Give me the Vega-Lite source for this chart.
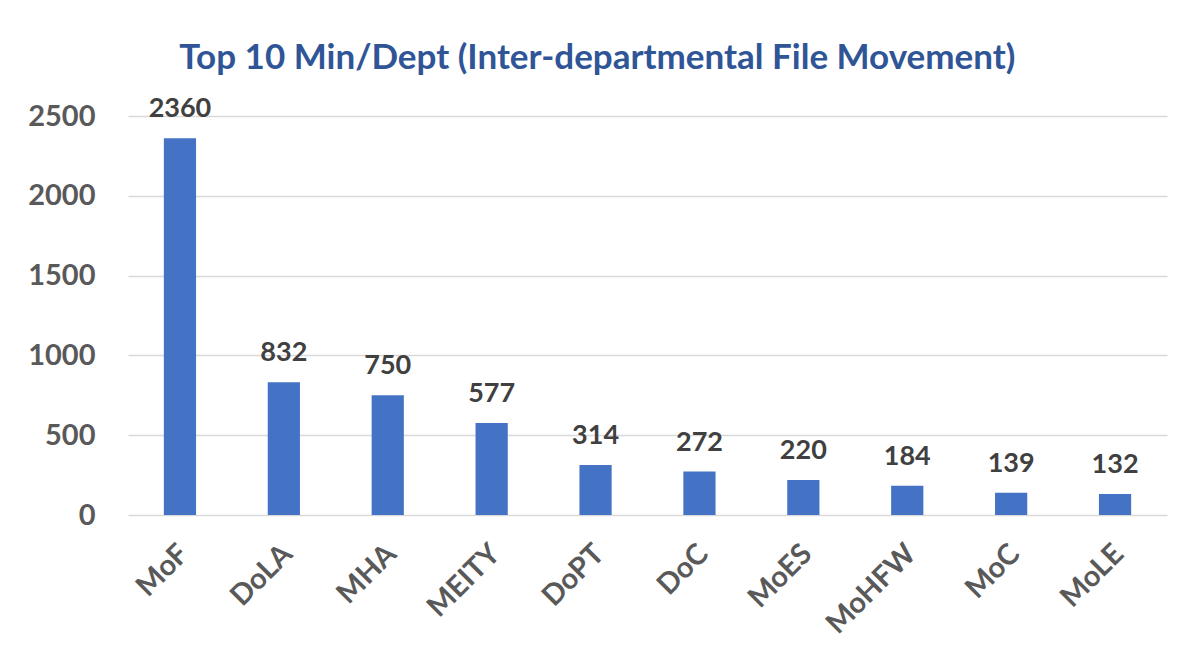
{
  "$schema": "https://vega.github.io/schema/vega-lite/v6.json",
  "width": 1039,
  "height": 399,
  "autosize": {"type": "none"},
  "padding": {"left": 128, "top": 116, "right": 22, "bottom": 133},
  "background": "white",
  "title": {
    "text": "Top 10 Min/Dept (Inter-departmental File Movement)",
    "font": "Lato",
    "fontSize": 35,
    "fontWeight": "bold",
    "color": "#2F5597",
    "anchor": "middle",
    "frame": "bounds",
    "offset": 19
  },
  "data": {
    "values": [
      {"dept": "MoF", "files": 2360},
      {"dept": "DoLA", "files": 832},
      {"dept": "MHA", "files": 750},
      {"dept": "MEITY", "files": 577},
      {"dept": "DoPT", "files": 314},
      {"dept": "DoC", "files": 272},
      {"dept": "MoES", "files": 220},
      {"dept": "MoHFW", "files": 184},
      {"dept": "MoC", "files": 139},
      {"dept": "MoLE", "files": 132}
    ]
  },
  "encoding": {
    "x": {
      "field": "dept",
      "type": "nominal",
      "sort": null,
      "title": null,
      "scale": {"paddingInner": 0.69, "paddingOuter": 0.345},
      "axis": {
        "labelAngle": -45,
        "labelFont": "Lato",
        "labelFontSize": 29,
        "labelFontWeight": "bold",
        "labelColor": "#595959",
        "labelPadding": 24,
        "labelOffset": -6,
        "ticks": false,
        "domain": false
      }
    },
    "y": {
      "field": "files",
      "type": "quantitative",
      "title": null,
      "scale": {"domain": [0, 2500], "nice": false},
      "axis": {
        "values": [0, 500, 1000, 1500, 2000, 2500],
        "format": "d",
        "labelFont": "Lato",
        "labelFontSize": 29,
        "labelFontWeight": "bold",
        "labelColor": "#595959",
        "labelPadding": 33,
        "ticks": false,
        "domain": false,
        "gridColor": "#D9D9D9",
        "gridWidth": 1.5
      }
    }
  },
  "layer": [
    {"mark": {"type": "bar", "color": "#4472C4"}},
    {
      "mark": {
        "type": "text",
        "font": "Lato",
        "fontSize": 27,
        "fontWeight": "bold",
        "color": "#404040",
        "baseline": "bottom",
        "dy": -15
      },
      "encoding": {"text": {"field": "files", "type": "quantitative"}}
    }
  ],
  "config": {"view": {"stroke": null}}
}
